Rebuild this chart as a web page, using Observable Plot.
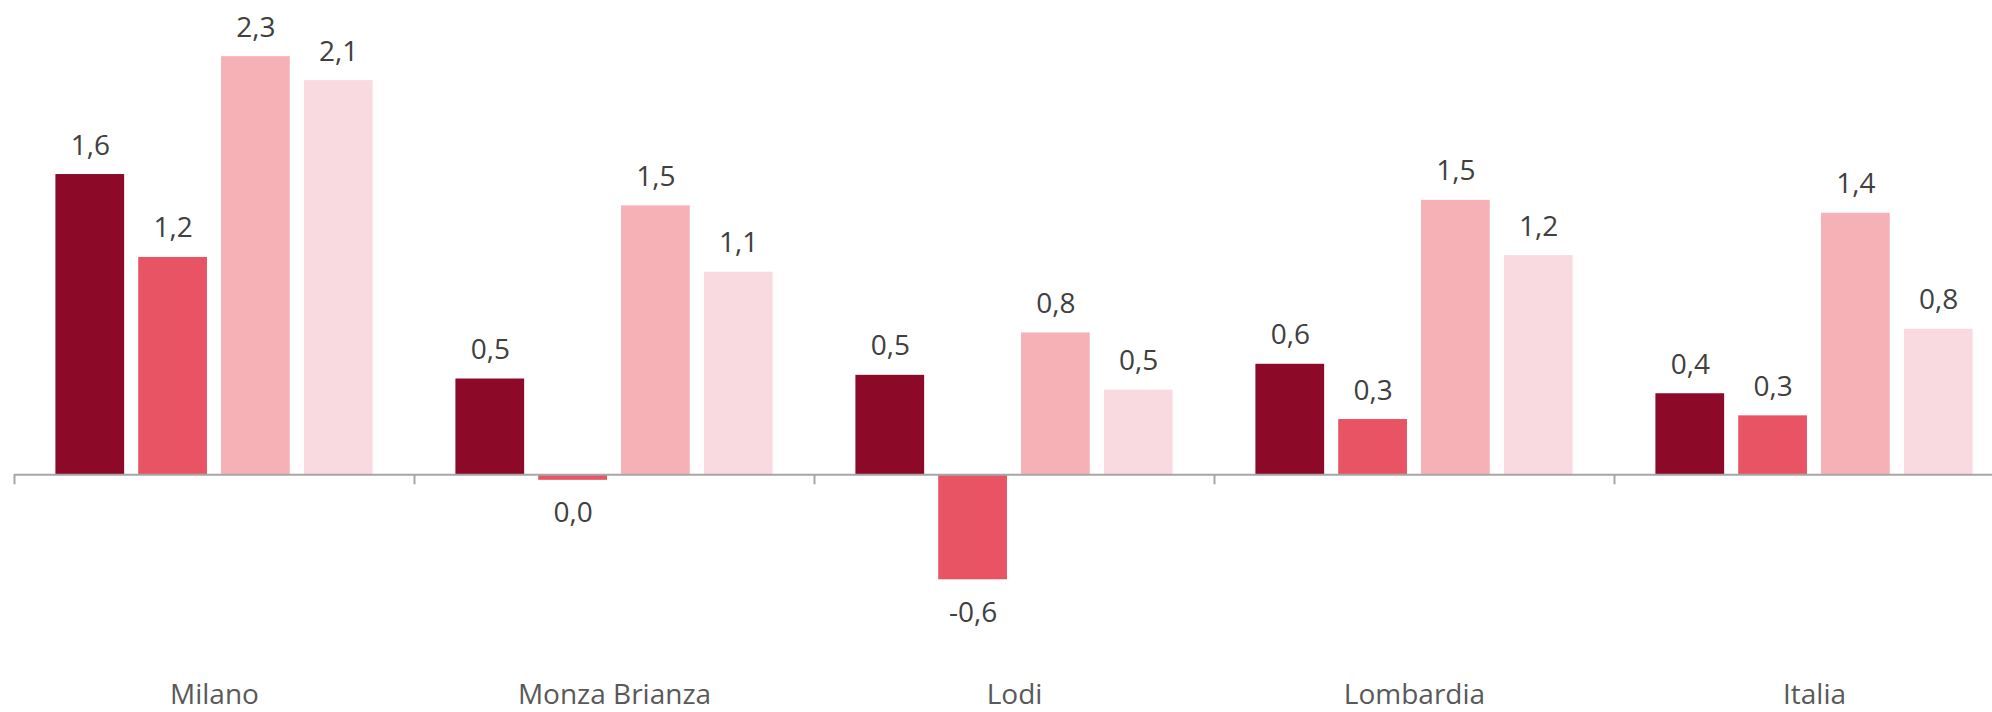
<!DOCTYPE html>
<html>
<head>
<meta charset="utf-8">
<script src="https://cdn.jsdelivr.net/npm/d3@7"></script>
<script src="https://cdn.jsdelivr.net/npm/@observablehq/plot@0.6"></script>
<style>
  html, body { margin: 0; padding: 0; background: #ffffff; overflow: hidden; }
  #chart { width: 1992px; height: 712px; overflow: hidden; }
</style>
</head>
<body>
<div id="chart"></div>
<script>
// Categories (x groups)
const categories = ["Milano", "Monza Brianza", "Lodi", "Lombardia", "Italia"];
// Series names (no legend shown in the reference)
const series = ["Serie 1", "Serie 2", "Serie 3", "Serie 4"];
// Series colours
const colors = ["#8C0A28", "#E85464", "#F6B1B7", "#FADAE1"];
// Values per series, in category order
const serie1 = [1.63, 0.52, 0.54, 0.60, 0.44];
const serie2 = [1.18, -0.03, -0.57, 0.30, 0.32];
const serie3 = [2.27, 1.46, 0.77, 1.49, 1.42];
const serie4 = [2.14, 1.10, 0.46, 1.19, 0.79];

const seriesValues = [serie1, serie2, serie3, serie4];
const data = [];
categories.forEach((c, ci) => {
  series.forEach((s, si) => {
    data.push({category: c, series: s, value: seriesValues[si][ci]});
  });
});

function fmt(v) {
  let r = Math.round(v * 10) / 10;
  if (r === 0) r = 0;
  return r.toFixed(1).replace(".", ",");
}

const FONT = "'Open Sans', Lato, sans-serif";

const chart = Plot.plot({
  width: 1992,
  height: 712,
  marginLeft: 14,
  marginRight: -22,
  marginTop: 0,
  marginBottom: 23,
  style: {fontFamily: FONT, fontSize: "28px", color: "#595959", background: "#ffffff"},
  fx: {domain: categories, padding: 0, axis: "bottom", tickSize: 0, tickPadding: -5, label: null},
  x: {domain: series, paddingInner: 0.17, paddingOuter: 0.5, round: false, axis: null},
  y: {domain: [-1.1656, 2.5749], axis: null},
  color: {domain: series, range: colors},
  marks: [
    Plot.barY(data, {fx: "category", x: "series", y1: 0, y2: "value", fill: "series"}),
    Plot.ruleY([0], {stroke: "#A6A6A6", strokeWidth: 2}),
    Plot.ruleX(categories, {fx: d => d, x: null, y1: 0, y2: 0, dx: -200, insetBottom: -10, stroke: "#A6A6A6", strokeWidth: 2}),
    Plot.text(data.filter(d => d.value >= 0), {fx: "category", x: "series", y: "value", text: d => fmt(d.value), lineAnchor: "bottom", dy: -20, fill: "#404040", fontSize: 28}),
    Plot.text(data.filter(d => d.value < 0), {fx: "category", x: "series", y: "value", text: d => fmt(d.value), lineAnchor: "top", dy: 22, fill: "#404040", fontSize: 28})
  ]
});
document.getElementById("chart").appendChild(chart);
</script>
</body>
</html>
